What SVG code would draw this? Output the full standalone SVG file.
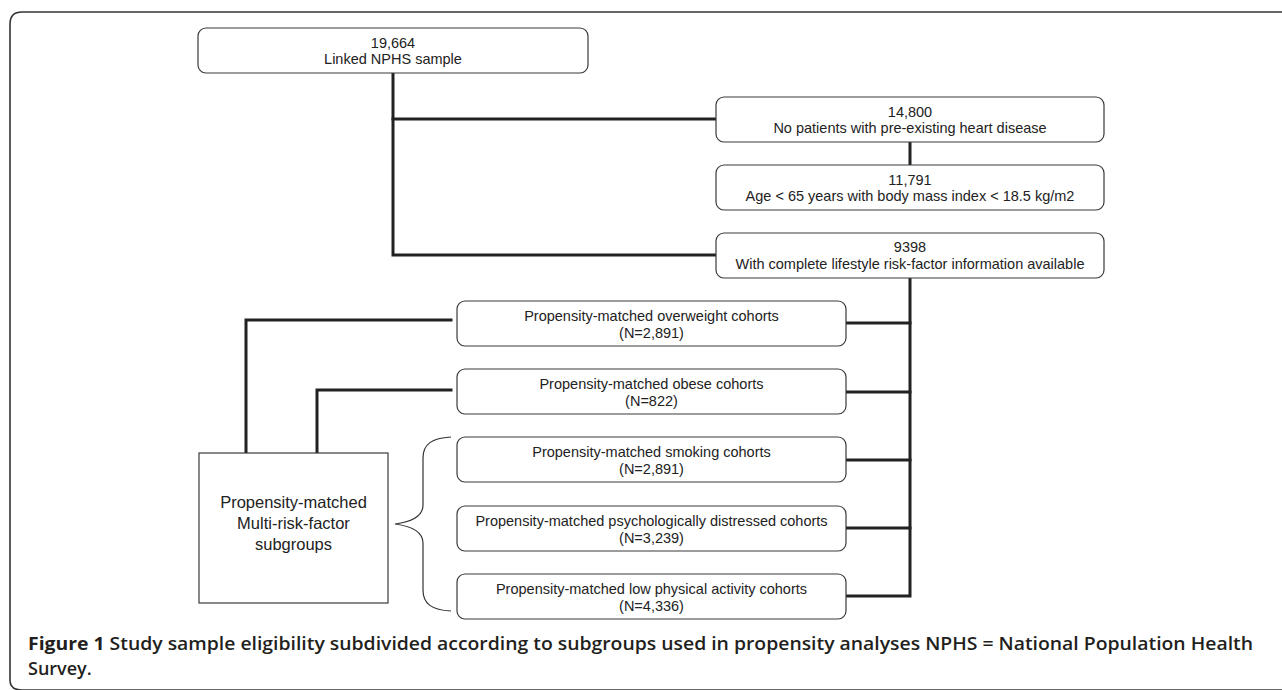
<svg xmlns="http://www.w3.org/2000/svg" width="1282" height="690" viewBox="0 0 1282 690">
<style>
.box{fill:#fff;stroke:#3a3a3a;stroke-width:1.2}
.t{font-family:"Liberation Sans",Arial,sans-serif;font-size:14.5px;fill:#222;text-anchor:middle}
.tb{font-family:"Liberation Sans",Arial,sans-serif;font-size:16.5px;fill:#222;text-anchor:middle}
.c{fill:none;stroke:#222;stroke-width:3;stroke-linecap:square;stroke-linejoin:miter}
.br{fill:none;stroke:#333;stroke-width:1.2}
.cap{font-family:"Open Sans","Noto Sans",sans-serif;font-size:18px;fill:#231f20}
</style>
<rect width="1282" height="690" fill="#fff"/>
<path d="M1282,12 H22 Q10,12 10,24 V680 Q10,690 22,690 H1282" fill="none" stroke="#333" stroke-width="1.6"/>

<g id="connectors">
<polyline class="c" points="393,73 393,255 716,255"/>
<line class="c" x1="393" y1="119" x2="716" y2="119"/>
<line class="c" x1="910" y1="142" x2="910" y2="165"/>
<polyline class="c" points="910,278 910,596 846,596"/>
<line class="c" x1="846" y1="323" x2="910" y2="323"/>
<line class="c" x1="846" y1="392" x2="910" y2="392"/>
<line class="c" x1="846" y1="460" x2="910" y2="460"/>
<line class="c" x1="846" y1="528" x2="910" y2="528"/>
<polyline class="c" points="451,320 246,320 246,453"/>
<polyline class="c" points="451,390 317,390 317,453"/>
<path class="br" d="M451,437 C432,438 423,444 423,458 V505 C423,517 410,522 395,524 C410,526 423,531 423,543 V590 C423,604 432,610 451,611"/>
</g>

<g id="n1"><rect class="box" x="198" y="28" width="390" height="45" rx="8"/>
<text class="t" x="393" y="48">19,664</text><text class="t" x="393" y="64">Linked NPHS sample</text></g>

<g id="n2"><rect class="box" x="716" y="97" width="388" height="45" rx="8"/>
<text class="t" x="910" y="117">14,800</text><text class="t" x="910" y="133">No patients with pre-existing heart disease</text></g>

<g id="n3"><rect class="box" x="716" y="165" width="388" height="45" rx="8"/>
<text class="t" x="910" y="185">11,791</text><text class="t" x="910" y="201">Age &lt; 65 years with body mass index &lt; 18.5 kg/m2</text></g>

<g id="n4"><rect class="box" x="716" y="233" width="388" height="45" rx="8"/>
<text class="t" x="910" y="252">9398</text><text class="t" x="910" y="269">With complete lifestyle risk-factor information available</text></g>

<g id="n5"><rect class="box" x="457" y="301" width="389" height="45" rx="8"/>
<text class="t" x="651.5" y="321">Propensity-matched overweight cohorts</text><text class="t" x="651.5" y="338">(N=2,891)</text></g>

<g id="n6"><rect class="box" x="457" y="369" width="389" height="45" rx="8"/>
<text class="t" x="651.5" y="389">Propensity-matched obese cohorts</text><text class="t" x="651.5" y="406">(N=822)</text></g>

<g id="n7"><rect class="box" x="457" y="437" width="389" height="45" rx="8"/>
<text class="t" x="651.5" y="457">Propensity-matched smoking cohorts</text><text class="t" x="651.5" y="474">(N=2,891)</text></g>

<g id="n8"><rect class="box" x="457" y="506" width="389" height="45" rx="8"/>
<text class="t" x="651.5" y="526">Propensity-matched psychologically distressed cohorts</text><text class="t" x="651.5" y="543">(N=3,239)</text></g>

<g id="n9"><rect class="box" x="457" y="574" width="389" height="45" rx="8"/>
<text class="t" x="651.5" y="594">Propensity-matched low physical activity cohorts</text><text class="t" x="651.5" y="611">(N=4,336)</text></g>

<g id="n10"><rect class="box" x="199" y="453" width="189" height="150" rx="0"/>
<text class="tb" x="293.5" y="508">Propensity-matched</text><text class="tb" x="293.5" y="529">Multi-risk-factor</text><text class="tb" x="293.5" y="550">subgroups</text></g>

<g id="caption">
<text class="cap" x="28" y="650" textLength="1225" lengthAdjust="spacingAndGlyphs"><tspan font-weight="700">Figure 1</tspan><tspan font-weight="600"> Study sample eligibility subdivided according to subgroups used in propensity analyses NPHS = National Population Health</tspan></text>
<text class="cap" x="28" y="675" font-weight="600" font-size="19">Survey.</text>
</g>
</svg>
